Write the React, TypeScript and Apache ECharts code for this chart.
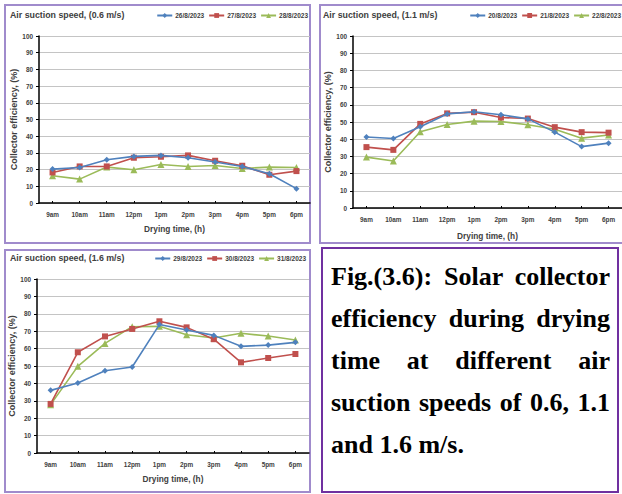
import React, { useEffect, useRef } from "react";
import * as echarts from "echarts";

const categories = ["9am", "10am", "11am", "12pm", "1pm", "2pm", "3pm", "4pm", "5pm", "6pm"];

const titles = ["Air suction speed, (0.6 m/s)", "Air suction speed, (1.1 m/s)", "Air suction speed, (1.6 m/s)"];
const yAxisTitle = "Collector efficiency, (%)";
const xAxisTitle = "Drying time, (h)";

const dates06 = ["26/8/2023", "27/8/2023", "28/8/2023"];
const eff06a = [20.3, 21.3, 25.9, 27.9, 28.5, 27.1, 24.5, 21.9, 17.5, 8.6];
const eff06b = [18.3, 21.9, 21.9, 27.1, 27.7, 28.5, 25.3, 22.3, 16.9, 19.1];
const eff06c = [16.3, 14.3, 21.5, 19.9, 23.1, 21.9, 22.5, 20.7, 21.5, 21.3];

const dates11 = ["20/8/2023", "21/8/2023", "22/8/2023"];
const eff11a = [41.3, 40.4, 47.2, 54.7, 56.0, 54.2, 51.8, 44.1, 35.7, 37.7];
const eff11b = [35.4, 33.8, 48.9, 55.0, 55.7, 52.6, 52.0, 47.0, 44.1, 43.8];
const eff11c = [29.6, 27.3, 44.3, 48.5, 50.5, 50.3, 48.4, 45.8, 40.6, 42.4];

const dates16 = ["29/8/2023", "30/8/2023", "31/8/2023"];
const eff16a = [36.0, 40.2, 47.3, 49.4, 73.8, 70.7, 67.6, 61.3, 62.0, 63.6];
const eff16b = [28.2, 57.9, 67.0, 71.3, 75.7, 72.2, 65.4, 52.1, 54.6, 56.9];
const eff16c = [27.8, 49.8, 63.0, 72.6, 72.8, 68.0, 66.1, 68.8, 67.2, 64.9];

const caption =
  "Fig.(3.6): Solar collector efficiency during drying time at different air suction speeds of 0.6, 1.1 and 1.6 m/s.";

const COLORS = ["#4f81bd", "#c0504d", "#9bbb59"];
const SYMBOLS = ["diamond", "rect", "triangle"];
const SYMBOL_SIZES = [6, 6, 7];
const FONT = "Liberation Sans, Arial, sans-serif";
const TEXT = "#404040";

export default function App() {
  const ref = useRef<HTMLDivElement>(null);

  useEffect(() => {
    if (!ref.current) return;
    const chart = echarts.init(ref.current, undefined, { renderer: "svg" });

    const panels = [
      { dates: dates06, data: [eff06a, eff06b, eff06c], grid: { left: 39, top: 36, width: 271, height: 167 }, title: { left: 10, top: 10 }, legendRight: 314, legendTop: 12, yGap: 20, xGap: 22 },
      { dates: dates11, data: [eff11a, eff11b, eff11c], grid: { left: 353, top: 36, width: 271, height: 172 }, title: { left: 323, top: 10 }, legendRight: 1, legendTop: 12, yGap: 19, xGap: 24 },
      { dates: dates16, data: [eff16a, eff16b, eff16c], grid: { left: 37, top: 279, width: 272, height: 174 }, title: { left: 10, top: 253 }, legendRight: 316, legendTop: 255, yGap: 18, xGap: 22 },
    ];

    const option: any = {
      animation: false,
      backgroundColor: "#ffffff",
      textStyle: { fontFamily: FONT },
      title: panels.map((p, i) => ({
        text: titles[i],
        left: p.title.left,
        top: p.title.top,
        padding: 0,
        textStyle: { fontSize: 8.8, fontWeight: "bold", color: TEXT, fontFamily: FONT },
      })),
      legend: panels.map((p) => ({
        data: p.dates,
        right: p.legendRight,
        top: p.legendTop,
        padding: 0,
        itemWidth: 15,
        itemHeight: 6,
        itemGap: 4,
        textStyle: { fontSize: 6.5, fontWeight: "bold", color: TEXT, fontFamily: FONT, padding: [0, 0, 0, -2] },
      })),
      grid: panels.map((p) => ({ ...p.grid, containLabel: false })),
      xAxis: panels.map((p, i) => ({
        type: "category",
        gridIndex: i,
        data: categories,
        boundaryGap: true,
        name: xAxisTitle,
        nameLocation: "middle",
        nameGap: p.xGap,
        nameTextStyle: { fontSize: 8.3, fontWeight: "bold", color: TEXT, fontFamily: FONT },
        axisLine: { lineStyle: { color: "#000000", width: 1.5 } },
        axisTick: { show: true, alignWithLabel: true, inside: true, length: 2, lineStyle: { color: "#000000" } },
        axisLabel: { interval: 0, fontSize: 6.4, fontWeight: "bold", color: TEXT, margin: 8, fontFamily: FONT },
        splitLine: { show: false },
      })),
      yAxis: panels.map((p, i) => ({
        type: "value",
        gridIndex: i,
        min: 0,
        max: 100,
        interval: 10,
        name: yAxisTitle,
        nameLocation: "middle",
        nameGap: p.yGap,
        nameTextStyle: { fontSize: 9, fontWeight: "bold", color: TEXT, fontFamily: FONT },
        axisLine: { show: true, lineStyle: { color: "#000000", width: 1.5 } },
        axisTick: { show: true, length: 3, lineStyle: { color: "#000000" } },
        axisLabel: { fontSize: 6.4, fontWeight: "bold", color: TEXT, margin: 6, fontFamily: FONT },
        splitLine: { show: true, lineStyle: { color: "#c4c4c4", width: 1 } },
      })),
      series: panels.flatMap((p, i) =>
        p.data.map((vals, j) => ({
          type: "line",
          name: p.dates[j],
          xAxisIndex: i,
          yAxisIndex: i,
          data: vals,
          symbol: SYMBOLS[j],
          symbolSize: SYMBOL_SIZES[j],
          showAllSymbol: true,
          lineStyle: { color: COLORS[j], width: 1.6 },
          itemStyle: { color: COLORS[j] },
          z: 3 - j,
        }))
      ),
      graphic: [
        { type: "rect", shape: { x: 5, y: 5, width: 305, height: 238 }, style: { fill: "none", stroke: "#a08bcc", lineWidth: 2 }, silent: true },
        { type: "rect", shape: { x: 320, y: 5, width: 310, height: 238 }, style: { fill: "none", stroke: "#a08bcc", lineWidth: 2 }, silent: true },
        { type: "rect", shape: { x: 5, y: 250, width: 305, height: 242 }, style: { fill: "none", stroke: "#a08bcc", lineWidth: 2 }, silent: true },
      ],
    };

    chart.setOption(option);
    return () => chart.dispose();
  }, []);

  return (
    <div style={{ position: "fixed", left: 0, top: 0, width: 622, height: 494, background: "#ffffff", overflow: "hidden" }}>
      <div ref={ref} style={{ position: "absolute", left: 0, top: 0, width: 622, height: 494 }} />
      <div
        style={{
          position: "absolute",
          left: 321,
          top: 247,
          width: 298,
          height: 246,
          boxSizing: "border-box",
          border: "2.5px solid #7030a0",
          padding: "7px 7px 0 8px",
          fontFamily: "'Liberation Serif', 'Times New Roman', serif",
          fontWeight: "bold",
          fontSize: 26,
          lineHeight: "42px",
          textAlign: "justify",
          color: "#000000",
          background: "#ffffff",
        }}
      >
        {caption}
      </div>
    </div>
  );
}
